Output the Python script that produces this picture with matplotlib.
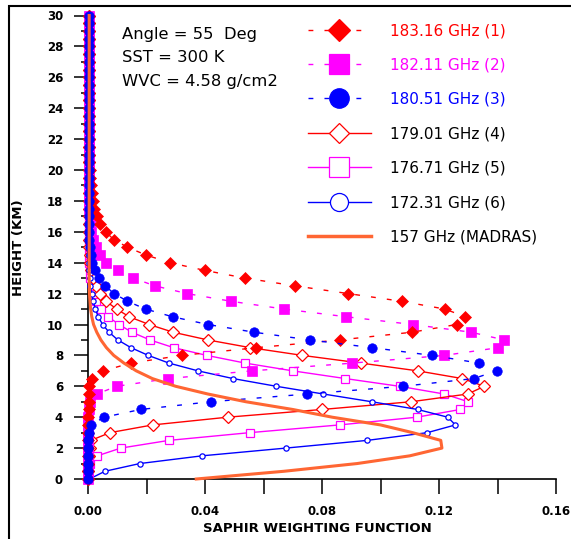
import matplotlib
matplotlib.use("Agg")
import matplotlib.pyplot as plt
from matplotlib.lines import Line2D
from matplotlib.patches import Rectangle
from matplotlib.ticker import MultipleLocator

# Height levels (km)
height_km = [
    0.0, 0.5, 1.0, 1.5, 2.0, 2.5, 3.0, 3.5, 4.0, 4.5,
    5.0, 5.5, 6.0, 6.5, 7.0, 7.5, 8.0, 8.5, 9.0, 9.5,
    10.0, 10.5, 11.0, 11.5, 12.0, 12.5, 13.0, 13.5, 14.0, 14.5,
    15.0, 15.5, 16.0, 16.5, 17.0, 17.5, 18.0, 18.5, 19.0, 19.5,
    20.0, 20.5, 21.0, 21.5, 22.0, 22.5, 23.0, 23.5, 24.0, 24.5,
    25.0, 25.5, 26.0, 26.5, 27.0, 27.5, 28.0, 28.5, 29.0, 29.5,
    30.0,
]

# SAPHIR weighting functions per channel
wf_183_16 = [
    0.0000, 0.0000, 0.0000, 0.0000, 0.0000, 0.0001, 0.0001, 0.0001, 0.0001, 0.0002,
    0.0002, 0.0003, 0.0005, 0.0013, 0.0052, 0.0146, 0.0320, 0.0576, 0.0860, 0.1108,
    0.1260, 0.1290, 0.1220, 0.1073, 0.0890, 0.0708, 0.0538, 0.0400, 0.0280, 0.0198,
    0.0135, 0.0088, 0.0060, 0.0042, 0.0030, 0.0022, 0.0016, 0.0012, 0.0009, 0.0007,
    0.0006, 0.0005, 0.0004, 0.0004, 0.0003, 0.0003, 0.0003, 0.0003, 0.0002, 0.0002,
    0.0002, 0.0002, 0.0002, 0.0002, 0.0002, 0.0002, 0.0002, 0.0002, 0.0002, 0.0002,
    0.0002,
]
wf_182_11 = [
    0.0000, 0.0000, 0.0000, 0.0000, 0.0000, 0.0000, 0.0001, 0.0001, 0.0001, 0.0003,
    0.0008, 0.0030, 0.0098, 0.0274, 0.0561, 0.0903, 0.1218, 0.1403, 0.1423, 0.1310,
    0.1110, 0.0883, 0.0670, 0.0490, 0.0339, 0.0229, 0.0155, 0.0101, 0.0063, 0.0040,
    0.0026, 0.0017, 0.0011, 0.0008, 0.0006, 0.0005, 0.0004, 0.0003, 0.0003, 0.0002,
    0.0002, 0.0002, 0.0002, 0.0002, 0.0002, 0.0002, 0.0002, 0.0002, 0.0002, 0.0002,
    0.0002, 0.0002, 0.0002, 0.0002, 0.0002, 0.0002, 0.0002, 0.0002, 0.0002, 0.0002,
    0.0002,
]
wf_180_51 = [
    0.0000, 0.0000, 0.0000, 0.0000, 0.0000, 0.0001, 0.0002, 0.0010, 0.0055, 0.0180,
    0.0419, 0.0750, 0.1076, 0.1319, 0.1397, 0.1338, 0.1176, 0.0972, 0.0758, 0.0568,
    0.0410, 0.0289, 0.0197, 0.0135, 0.0090, 0.0058, 0.0037, 0.0024, 0.0015, 0.0010,
    0.0007, 0.0005, 0.0004, 0.0003, 0.0003, 0.0002, 0.0002, 0.0002, 0.0002, 0.0002,
    0.0002, 0.0002, 0.0002, 0.0002, 0.0002, 0.0002, 0.0002, 0.0002, 0.0002, 0.0002,
    0.0002, 0.0002, 0.0002, 0.0002, 0.0002, 0.0002, 0.0002, 0.0002, 0.0002, 0.0002,
    0.0002,
]
wf_179_01 = [
    0.0000, 0.0000, 0.0001, 0.0002, 0.0006, 0.0010, 0.0075, 0.0221, 0.0477, 0.0800,
    0.1105, 0.1298, 0.1355, 0.1280, 0.1127, 0.0934, 0.0733, 0.0555, 0.0410, 0.0291,
    0.0209, 0.0141, 0.0098, 0.0062, 0.0040, 0.0026, 0.0017, 0.0011, 0.0008, 0.0006,
    0.0004, 0.0003, 0.0003, 0.0002, 0.0002, 0.0002, 0.0002, 0.0002, 0.0002, 0.0002,
    0.0002, 0.0002, 0.0002, 0.0002, 0.0002, 0.0002, 0.0002, 0.0002, 0.0002, 0.0002,
    0.0002, 0.0002, 0.0002, 0.0002, 0.0002, 0.0002, 0.0002, 0.0002, 0.0002, 0.0002,
    0.0002,
]
wf_176_71 = [
    0.0000, 0.0001, 0.0006, 0.0032, 0.0112, 0.0277, 0.0553, 0.0860, 0.1124, 0.1273,
    0.1300, 0.1218, 0.1065, 0.0880, 0.0700, 0.0538, 0.0406, 0.0293, 0.0212, 0.0150,
    0.0106, 0.0069, 0.0043, 0.0028, 0.0018, 0.0012, 0.0008, 0.0006, 0.0004, 0.0003,
    0.0003, 0.0002, 0.0002, 0.0002, 0.0002, 0.0002, 0.0002, 0.0002, 0.0002, 0.0002,
    0.0002, 0.0002, 0.0002, 0.0002, 0.0002, 0.0002, 0.0002, 0.0002, 0.0002, 0.0002,
    0.0002, 0.0002, 0.0002, 0.0002, 0.0002, 0.0002, 0.0002, 0.0002, 0.0002, 0.0002,
    0.0002,
]
wf_172_31 = [
    0.0005, 0.0058, 0.0177, 0.0390, 0.0676, 0.0955, 0.1160, 0.1256, 0.1230, 0.1127,
    0.0970, 0.0805, 0.0644, 0.0496, 0.0376, 0.0277, 0.0206, 0.0147, 0.0102, 0.0072,
    0.0050, 0.0035, 0.0025, 0.0018, 0.0012, 0.0008, 0.0006, 0.0004, 0.0003, 0.0003,
    0.0002, 0.0002, 0.0002, 0.0002, 0.0002, 0.0002, 0.0002, 0.0002, 0.0002, 0.0002,
    0.0002, 0.0002, 0.0002, 0.0002, 0.0002, 0.0002, 0.0002, 0.0002, 0.0002, 0.0002,
    0.0002, 0.0002, 0.0002, 0.0002, 0.0002, 0.0002, 0.0002, 0.0002, 0.0002, 0.0002,
    0.0002,
]
wf_madras_157 = [
    0.0370, 0.0670, 0.0920, 0.1100, 0.1210, 0.1206, 0.1110, 0.1000, 0.0835, 0.0700,
    0.0540, 0.0410, 0.0300, 0.0220, 0.0165, 0.0123, 0.0088, 0.0063, 0.0044, 0.0030,
    0.0019, 0.0013, 0.0009, 0.0007, 0.0005, 0.0005, 0.0004, 0.0004, 0.0004, 0.0004,
    0.0004, 0.0004, 0.0004, 0.0004, 0.0004, 0.0004, 0.0004, 0.0004, 0.0004, 0.0004,
    0.0004, 0.0004, 0.0004, 0.0004, 0.0004, 0.0004, 0.0004, 0.0004, 0.0004, 0.0004,
    0.0004, 0.0004, 0.0004, 0.0004, 0.0004, 0.0004, 0.0004, 0.0004, 0.0004, 0.0004,
    0.0004,
]

channel_labels = [
    "183.16 GHz (1)", "182.11 GHz (2)", "180.51 GHz (3)",
    "179.01 GHz (4)", "176.71 GHz (5)", "172.31 GHz (6)",
    "157 GHz (MADRAS)",
]
label_colors = ["#FF0000", "#FF00FF", "#0000FF", "black", "black", "black", "black"]

info_lines = ["Angle = 55  Deg", "SST = 300 K", "WVC = 4.58 g/cm2"]

RED, MAG, BLUE, ORANGE = "#FF0000", "#FF00FF", "#0000FF", "#FF6633"
DASH = (0, (3.5, 8))

W, H = 571, 539
fig = plt.figure(figsize=(W / 100, H / 100), dpi=100)
ax = fig.add_axes([88 / W, 1 - 479 / H, 468 / W, 463.5 / H])

# (values, color, linestyle, marker, markersize, filled, legend markersize)
styles = {
    "183.16 GHz (1)": (wf_183_16, RED, DASH, "D", 6.5, True, 11),
    "182.11 GHz (2)": (wf_182_11, MAG, DASH, "s", 7.2, True, 15),
    "180.51 GHz (3)": (wf_180_51, BLUE, DASH, "o", 6.8, True, 14),
    "179.01 GHz (4)": (wf_179_01, RED, "-", "D", 6.0, False, 10.5),
    "176.71 GHz (5)": (wf_176_71, MAG, "-", "s", 6.0, False, 15),
    "172.31 GHz (6)": (wf_172_31, BLUE, "-", "o", 3.8, False, 13),
}

draw_order = ["176.71 GHz (5)", "179.01 GHz (4)", "172.31 GHz (6)",
              "182.11 GHz (2)", "183.16 GHz (1)", "180.51 GHz (3)"]
for z, name in enumerate(draw_order):
    vals, col, ls, mk, ms, filled, _ = styles[name]
    ax.plot(vals, height_km, color=col, linestyle=ls, linewidth=1.0,
            marker=mk, markersize=ms,
            markerfacecolor=col if filled else "white",
            markeredgecolor=col, markeredgewidth=0.9 if not filled else 0.5,
            clip_on=False, zorder=3 + z)

ax.plot(wf_madras_157, height_km, color=ORANGE, linewidth=2.2,
        solid_joinstyle="round", clip_on=False, zorder=10)

ax.set_xlim(0, 0.16)
ax.set_ylim(0, 30)
ax.xaxis.set_major_locator(MultipleLocator(0.04))
ax.xaxis.set_minor_locator(MultipleLocator(0.02))
ax.yaxis.set_major_locator(MultipleLocator(2))
ax.yaxis.set_minor_locator(MultipleLocator(1))
ax.xaxis.set_major_formatter(matplotlib.ticker.FormatStrFormatter("%.2f"))

for side in ("top", "right"):
    ax.spines[side].set_visible(False)
for side in ("left", "bottom"):
    ax.spines[side].set_linewidth(1.2)

ax.tick_params(axis="y", which="major", length=10, width=1.1, pad=8,
               direction="out", labelsize=8.5)
ax.tick_params(axis="y", which="minor", length=5, width=1.1, direction="out")
ax.tick_params(axis="x", which="both", length=10.5, width=1.1, pad=8.5,
               direction="out", labelsize=8.5)
for lab in ax.get_xticklabels() + ax.get_yticklabels():
    lab.set_fontweight("bold")

ax.set_xlabel("SAPHIR WEIGHTING FUNCTION", fontsize=9.5, fontweight="bold")
ax.set_ylabel("HEIGHT (KM)", fontsize=9.5, fontweight="bold")
ax.xaxis.set_label_coords(0.49, -0.092)
ax.yaxis.set_label_coords(-0.135, 0.5)

# Legend with enlarged sample markers
handles = []
for name in channel_labels[:6]:
    vals, col, ls, mk, ms, filled, lms = styles[name]
    handles.append(Line2D([], [], color=col, linestyle=ls, linewidth=1.0,
                          marker=mk, markersize=lms,
                          markerfacecolor=col if filled else "white",
                          markeredgecolor=col, markeredgewidth=0.9))
handles.append(Line2D([], [], color=ORANGE, linewidth=2.5))

leg = ax.legend(handles, channel_labels, loc="upper left",
                bbox_to_anchor=(308 / W, 1 - 23 / H), bbox_transform=fig.transFigure,
                frameon=False, fontsize=11, handlelength=4.1, handletextpad=1.3,
                labelspacing=1.27, borderpad=0, borderaxespad=0)
for txt, c in zip(leg.get_texts(), label_colors):
    txt.set_color(c)

for i, line in enumerate(info_lines):
    fig.text(122 / W, 1 - (35 + 23 * i) / H, line, fontsize=11.8, va="center", ha="left")

# Figure frame
fig.add_artist(Rectangle((9 / W, -0.1), 1.2, 1 + 0.1 - 6 / H, transform=fig.transFigure,
                         fill=False, edgecolor="black", linewidth=1.5))

fig.savefig("out.png", dpi=100)
